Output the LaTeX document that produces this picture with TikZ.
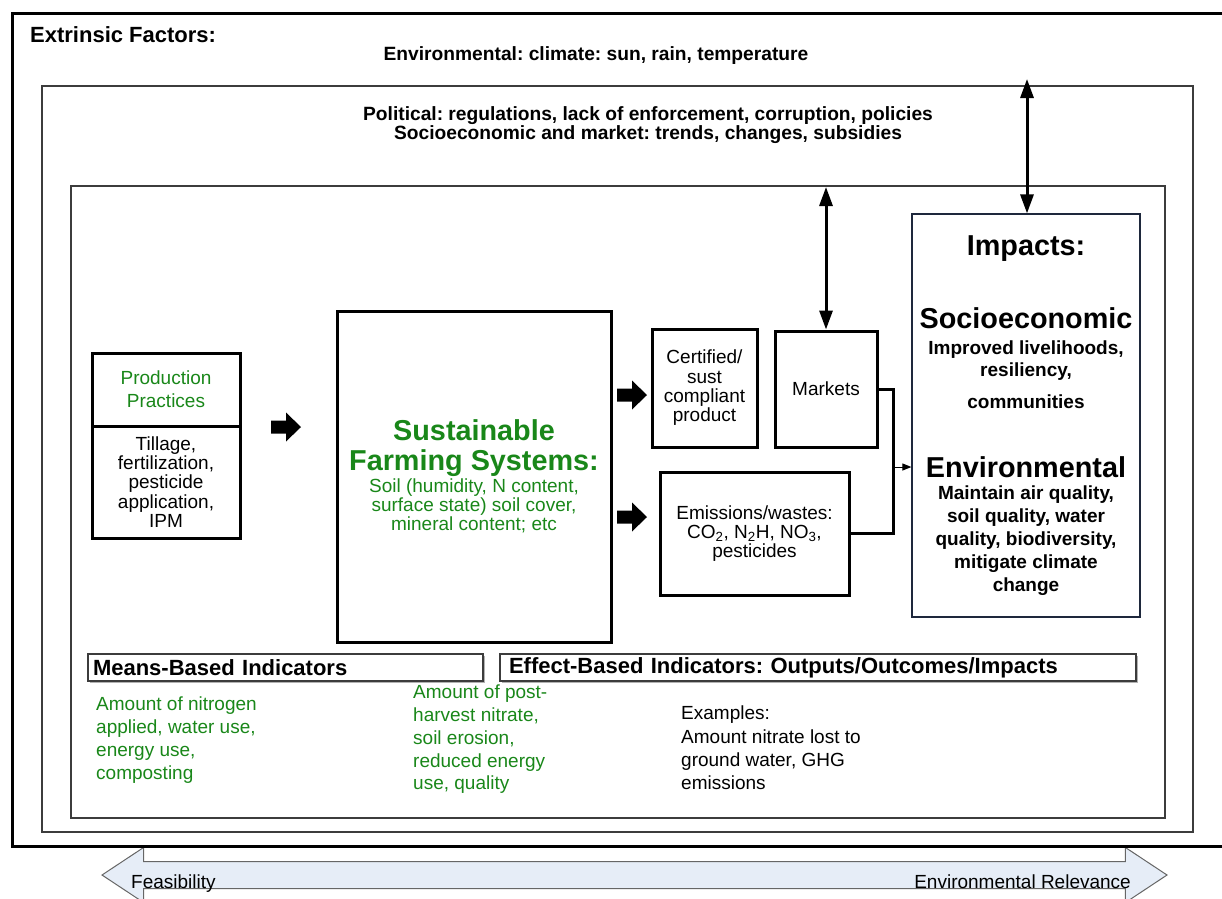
\documentclass[tikz,border=0pt]{standalone}
\usepackage{fontspec}
\setmainfont{Liberation Sans}
\usetikzlibrary{arrows.meta,shapes.arrows,shadows}

\definecolor{leaf}{RGB}{25,135,25}
\definecolor{scalefill}{RGB}{230,237,247}
\definecolor{framegray}{RGB}{60,60,60}
\definecolor{impactline}{RGB}{30,40,60}

\newcommand{\fsz}[2]{\fontsize{#1}{#2}\selectfont}
\frenchspacing

\begin{document}
\begin{tikzpicture}[x=1pt,y=-1pt,
  thickbox/.style={draw=black, line width=3pt, inner sep=0pt, align=center},
  thinframe/.style={draw=framegray, line width=1.2pt},
  dbl/.style={line width=3pt, {Triangle[length=19pt,width=13pt]}-{Triangle[length=19pt,width=13pt]}},
  fatarr/.pic={\fill[black] (-15,-6.5) -- (0,-6.5) -- (0,-14.5) -- (15,0) -- (0,14.5) -- (0,6.5) -- (-15,6.5) -- cycle;},
  conn/.style={line width=3pt, line join=miter},
  feed/.style={line width=1pt, -{Triangle[length=9pt,width=7pt]}},
  indbox/.style={draw=framegray, line width=1.2pt, fill=white, minimum height=27pt,
    inner ysep=0pt, align=left, font=\fsz{22}{24}\bfseries,
    drop shadow={shadow xshift=2pt, shadow yshift=-2pt, fill=black!30, opacity=1}},
  note/.style={font=\fsz{19}{23}, align=left, inner sep=0pt, anchor=north west},
  heading/.style={font=\fsz{28.8}{32}\bfseries, inner sep=0pt},
  bodybold/.style={font=\fsz{19}{23}\bfseries, align=center, inner sep=0pt}
]
\useasboundingbox (0,0) rectangle (1222,898);

% scale of feasibility vs. relevance along the bottom
\node[double arrow, draw=black!60, fill=scalefill, line width=1pt,
  minimum height=1065pt, minimum width=54pt, double arrow head extend=14pt,
  double arrow tip angle=67, inner xsep=0pt, inner ysep=13pt] (scale) at (634.5,875) {};
\node[font=\fsz{19}{22}, anchor=base west, inner sep=0pt] (feas) at (131,888) {Feasibility};
\node[font=\fsz{19}{22}, anchor=base east, inner sep=0pt] (envrel) at (1131,888) {Environmental Relevance};

% nested context frames
\draw[line width=3pt] (1222,13) -- (12,13) -- (12,846) -- (1222,846);
\draw[thinframe] (42,86) rectangle (1193,832);
\draw[thinframe] (71,186) rectangle (1165,818);

% extrinsic factors
\node[font=\fsz{22}{24}\bfseries, anchor=west, inner sep=0pt] (extr) at (30,35) {Extrinsic Factors:};
\node[font=\fsz{19.2}{22}\bfseries, inner sep=0pt] (envf) at (596,56) {Environmental: climate: sun, rain, temperature};
\node[font=\fsz{19.2}{18.5}\bfseries, align=center, inner sep=0pt] (polf) at (648,125)
  {Political: regulations, lack of enforcement, corruption, policies\\Socioeconomic and market: trends, changes, subsidies};

% production practices
\node[thickbox, minimum width=148pt, minimum height=73pt, font=\fsz{19}{23}, text=leaf] (pp) at (166,389.5) {Production\\Practices};
\node[thickbox, minimum width=148pt, minimum height=112pt, font=\fsz{19}{19.3}] (ppb) at (166,482) {Tillage,\\fertilization,\\pesticide\\application,\\IPM};
\pic (fa0) at (286,427) {fatarr};

% sustainable farming systems
\node[thickbox, minimum width=274pt, minimum height=331pt] (sfs) at (474,476.5) {};
\node[font=\fsz{28.8}{30}\bfseries, text=leaf, align=center, inner sep=0pt] (sfstitle) at (474,448) {Sustainable\\Farming Systems:};
\node[font=\fsz{19}{18.7}, text=leaf, align=center, inner sep=0pt] (sfsbody) at (474,506) {Soil (humidity, N content,\\surface state) soil cover,\\mineral content; etc};

\pic (fa1) at (632,395) {fatarr};
\pic (fa2) at (632,517) {fatarr};

% outputs
\node[thickbox, minimum width=105pt, minimum height=118pt, font=\fsz{19}{19.3}] (cert) at (704.5,388) {Certified/\\sust\\compliant\\product};
\node[thickbox, minimum width=102pt, minimum height=116pt, font=\fsz{19}{19.3}] (markets) at (826,389) {Markets};
\node[thickbox, minimum width=189pt, minimum height=123pt, font=\fsz{19}{18.7}] (emis) at (754.5,533.5)
  {Emissions/wastes:\\CO\textsubscript{2}, N\textsubscript{2}H, NO\textsubscript{3},\\pesticides};

% impacts
\node[draw=impactline, line width=1.2pt, minimum width=228pt, minimum height=403pt] (impacts) at (1026,415.5) {};
\node[heading] (impT) at (1026,249) {Impacts:};
\node[heading] (socT) at (1026,318) {Socioeconomic};
\node[bodybold, font=\fsz{19}{22}\bfseries] (socB) at (1026,375) {Improved livelihoods,\\resiliency,\\[10pt]communities};
\node[heading] (envT) at (1026,467) {Environmental};
\node[bodybold] (envB) at (1026,541) {Maintain air quality,\\soil quality, water\\quality, biodiversity,\\mitigate climate\\change};

% links
\coordinate (junc) at (893,467);
\draw[conn] (markets.east) -- (markets.east -| junc) -- (emis.east -| junc) -- (emis.east);
\draw[feed] (junc) -- (junc -| impacts.west);
\coordinate (envtop) at (1027,79);
\draw[dbl] (envtop) -- (envtop |- impacts.north);
\coordinate (poltop) at (826,187);
\draw[dbl] (poltop) -- (markets.north);

% indicator bands
\node[indbox, inner xsep=5pt, text width=385pt] (means) at (285.5,667.5) {Means-Based Indicators};
\node[indbox, inner xsep=9pt, text width=618pt] (effect) at (818,667.5) {Effect-Based Indicators: Outputs/Outcomes/Impacts};

\node[note, text=leaf] (meansex) at (96,697) {Amount of nitrogen\\applied, water use,\\energy use,\\composting};
\node[note, text=leaf, font=\fsz{19}{22.75}] (postex) at (413,685) {Amount of post-\\harvest nitrate,\\soil erosion,\\reduced energy\\use, quality};
\node[note, font=\fsz{19}{23.3}] (examples) at (681,706) {Examples:\\Amount nitrate lost to\\ground water, GHG\\emissions};
\end{tikzpicture}
\end{document}
